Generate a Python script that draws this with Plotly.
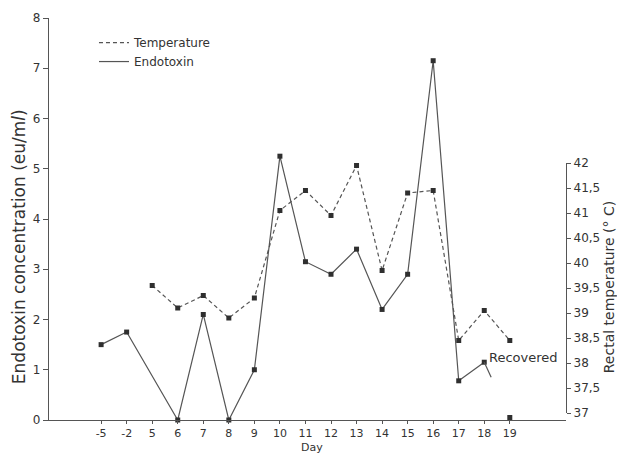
import plotly.graph_objects as go

# ---- data ----
days = ["-5", "-2", "5", "6", "7", "8", "9", "10", "11", "12", "13", "14", "15", "16", "17", "18", "19"]
endotoxin = [1.5, 1.75, None, 0.0, 2.1, 0.0, 1.0, 5.25, 3.15, 2.9, 3.4, 2.2, 2.9, 7.15, 0.78, 1.15, None]
endotoxin_recovered_day = "19"
endotoxin_recovered_value = 0.05
temperature = [None, None, 39.55, 39.1, 39.35, 38.9, 39.3, 41.05, 41.45, 40.95, 41.95, 39.85, 41.4, 41.45, 38.45, 39.05, 38.45]
left_ticks = [0, 1, 2, 3, 4, 5, 6, 7, 8]
right_ticks = [37, 37.5, 38, 38.5, 39, 39.5, 40, 40.5, 41, 41.5, 42]
right_ticktext = ["37", "37,5", "38", "38,5", "39", "39,5", "40", "40,5", "41", "41,5", "42"]

xi = list(range(len(days)))
FONT = "DejaVu Sans"
TXT = "#333333"
LINE = "#555555"
MK = "#2f2f2f"

fig = go.Figure()

# temperature (dashed) on right axis
fig.add_trace(go.Scatter(
    x=xi, y=temperature, yaxis="y2", mode="lines+markers", connectgaps=False,
    line=dict(color=LINE, width=1.2, dash="4px,3px"),
    marker=dict(symbol="square", size=5, color=MK), cliponaxis=False, showlegend=False))

# endotoxin (solid) on left axis
fig.add_trace(go.Scatter(
    x=xi[:-1], y=endotoxin[:-1], mode="lines+markers", connectgaps=True,
    line=dict(color=LINE, width=1.2),
    marker=dict(symbol="square", size=5, color=MK), cliponaxis=False, showlegend=False))

# short tail after day 18 towards the recovered value
i18 = days.index("18")
i19 = days.index(endotoxin_recovered_day)
frac = 0.27
fig.add_trace(go.Scatter(
    x=[i18, i18 + frac * (i19 - i18)],
    y=[endotoxin[i18], endotoxin[i18] + frac * (endotoxin_recovered_value - endotoxin[i18])],
    mode="lines", line=dict(color=LINE, width=1.2), showlegend=False))

# day 19 endotoxin marker
fig.add_trace(go.Scatter(
    x=[i19], y=[endotoxin_recovered_value], mode="markers",
    marker=dict(symbol="square", size=5, color=MK), cliponaxis=False, showlegend=False))

# legend-only entries
fig.add_trace(go.Scatter(x=[None], y=[None], mode="lines", name="Temperature",
                         line=dict(color=LINE, width=1.2, dash="4px,3px")))
fig.add_trace(go.Scatter(x=[None], y=[None], mode="lines", name="Endotoxin",
                         line=dict(color=LINE, width=1.2)))

fig.add_annotation(x=i18 + 0.12, y=1.25, xref="x", yref="y", text="Recovered",
                   showarrow=False, xanchor="left", yanchor="middle",
                   font=dict(family=FONT, size=13, color=TXT))

fig.add_annotation(x=-0.058, y=0.43, xref="paper", yref="paper",
                   text="Endotoxin concentration (eu/m<i>l</i>)", textangle=-90,
                   showarrow=False, xanchor="center", yanchor="middle",
                   font=dict(family=FONT, size=17, color=TXT))
fig.add_annotation(x=1.083, y=0.33, xref="paper", yref="paper",
                   text="Rectal temperature (° C)", textangle=-90,
                   showarrow=False, xanchor="center", yanchor="middle",
                   font=dict(family=FONT, size=14, color=TXT))
fig.add_annotation(x=0.508, y=-0.0866, xref="paper", yref="paper", text="Day",
                   showarrow=False, xanchor="center", yanchor="bottom", borderpad=0,
                   font=dict(family=FONT, size=11, color=TXT))

fig.update_layout(
    template="none",
    width=617, height=455,
    margin=dict(l=49, r=51, t=18, b=35, autoexpand=False),
    paper_bgcolor="white", plot_bgcolor="rgba(0,0,0,0)",
    font=dict(family=FONT, size=12, color=TXT),
    xaxis=dict(range=[-2.04, 18.2], tickmode="array", tickvals=xi, ticktext=days,
               showgrid=False, zeroline=False, showline=True, linecolor=LINE, linewidth=1.2,
               ticks="outside", ticklen=3, tickcolor=LINE, automargin=False,
               tickfont=dict(family=FONT, size=11, color=TXT)),
    yaxis=dict(range=[0, 8], tickmode="array", tickvals=left_ticks, automargin=False,
               showgrid=False, zeroline=False, showline=True, linecolor=LINE, linewidth=1.2,
               ticks="outside", ticklen=5, tickcolor=LINE),
    yaxis2=dict(anchor="x", side="right", domain=[0.0174, 0.6393], range=[37, 42],
                tickmode="array", tickvals=right_ticks, ticktext=right_ticktext, automargin=False,
                showgrid=False, zeroline=False, showline=True, linecolor=LINE, linewidth=1.2,
                ticks="outside", ticklen=4, tickcolor=LINE),
    legend=dict(x=0.087, y=0.975, xanchor="left", yanchor="top", bgcolor="rgba(0,0,0,0)",
                font=dict(family=FONT, size=12, color=TXT), tracegroupgap=0),
)

fig.write_html("out.html", config={"displayModeBar": False},
               post_script="document.body.style.margin='0';")
